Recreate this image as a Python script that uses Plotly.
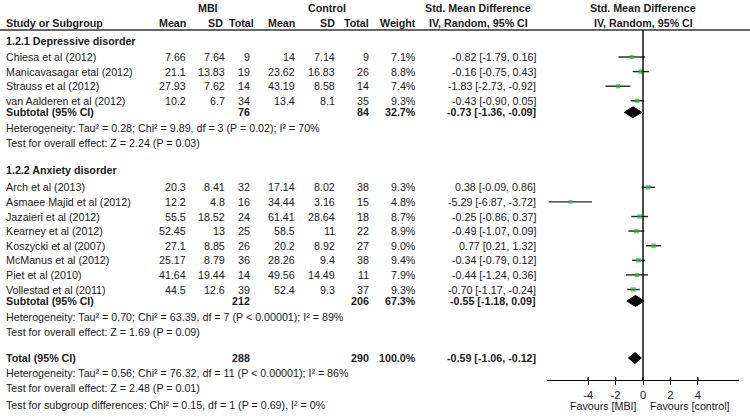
import plotly.graph_objects as go

# ---- data ----
dep_studies = ["Chiesa et al (2012)", "Manicavasagar etal (2012)", "Strauss et al (2012)",
               "van Aalderen et al (2012)"]
dep_mbi_mean = [7.66, 21.1, 27.93, 10.2]
dep_mbi_sd = [7.64, 13.83, 7.62, 6.7]
dep_mbi_n = [9, 19, 14, 34]
dep_ctl_mean = [14, 23.62, 43.19, 13.4]
dep_ctl_sd = [7.14, 16.83, 8.58, 8.1]
dep_ctl_n = [9, 26, 14, 35]
dep_weight = [7.1, 8.8, 7.4, 9.3]
dep_smd = [-0.82, -0.16, -1.83, -0.43]
dep_lo = [-1.79, -0.75, -2.73, -0.90]
dep_hi = [0.16, 0.43, -0.92, 0.05]

anx_studies = ["Arch et al (2013)", "Asmaee Majid et al (2012)", "Jazaieri et al (2012)",
               "Kearney et al (2012)", "Koszycki et al (2007)", "McManus et al (2012)",
               "Piet et al (2010)", "Vollestad et al (2011)"]
anx_mbi_mean = [20.3, 12.2, 55.5, 52.45, 27.1, 25.17, 41.64, 44.5]
anx_mbi_sd = [8.41, 4.8, 18.52, 13, 8.85, 8.79, 19.44, 12.6]
anx_mbi_n = [32, 16, 24, 25, 26, 36, 14, 39]
anx_ctl_mean = [17.14, 34.44, 61.41, 58.5, 20.2, 28.26, 49.56, 52.4]
anx_ctl_sd = [8.02, 3.16, 28.64, 11, 8.92, 9.4, 14.49, 9.3]
anx_ctl_n = [38, 15, 18, 22, 27, 38, 11, 37]
anx_weight = [9.3, 4.8, 8.7, 8.9, 9.0, 9.4, 7.9, 9.3]
anx_smd = [0.38, -5.29, -0.25, -0.49, 0.77, -0.34, -0.44, -0.70]
anx_lo = [-0.09, -6.87, -0.86, -1.07, 0.21, -0.79, -1.24, -1.17]
anx_hi = [0.86, -3.72, 0.37, 0.09, 1.32, 0.12, 0.36, -0.24]

sub_labels = ["Subtotal (95% CI)", "Subtotal (95% CI)", "Total (95% CI)"]
sub_mbi_n = [76, 212, 288]
sub_ctl_n = [84, 206, 290]
sub_weight = [32.7, 67.3, 100.0]
sub_smd = [-0.73, -0.55, -0.59]
sub_lo = [-1.36, -1.18, -1.06]
sub_hi = [-0.09, 0.09, -0.12]

dep_het = "Heterogeneity: Tau² = 0.28; Chi² = 9.89, df = 3 (P = 0.02); I² = 70%"
dep_test = "Test for overall effect: Z = 2.24 (P = 0.03)"
anx_het = "Heterogeneity: Tau² = 0.70; Chi² = 63.39, df = 7 (P < 0.00001); I² = 89%"
anx_test = "Test for overall effect: Z = 1.69 (P = 0.09)"
tot_het = "Heterogeneity: Tau² = 0.56; Chi² = 76.32, df = 11 (P < 0.00001); I² = 86%"
tot_test = "Test for overall effect: Z = 2.48 (P = 0.01)"
sub_test = "Test for subgroup differences: Chi² = 0.15, df = 1 (P = 0.69), I² = 0%"

ticks = [-4, -2, 0, 2, 4]

# ---- layout (pixel rows, figure is 750x418) ----
W, H = 750, 418
FONT = "Liberation Sans, Arial, sans-serif"
FS = 10.7
TXT = "#1a1a1a"
GREEN = "#3cae4f"
ROW = 14.6

y_g1 = 41
y_dep = [57 + ROW * i for i in range(len(dep_studies))]
y_sub1 = y_dep[-1] + 11.5
y_het1 = y_sub1 + 16
y_test1 = y_het1 + 15
y_g2 = y_test1 + 27
y_anx = [y_g2 + 17 + ROW * i for i in range(len(anx_studies))]
y_sub2 = y_anx[-1] + 11.5
y_het2 = y_sub2 + 16
y_test2 = y_het2 + 15
y_tot = y_test2 + 26
y_het3 = y_tot + 15
y_test3 = y_het3 + 15
y_sub3 = y_test3 + 17
y_axis = 380

# column right edges
c_name = 4
c_mmean, c_msd, c_mn = 188, 227, 252
c_cmean, c_csd, c_cn = 297, 337, 371
c_w, c_ci = 418, 538

ann = []


def txt(x, y, s, anchor="right", bold=False):
    ann.append(dict(x=x / W, y=y, xref="paper", yref="y", text=f"<b>{s}</b>" if bold else s,
                    showarrow=False, xanchor=anchor, yanchor="middle",
                    font=dict(family=FONT, size=FS, color=TXT)))


def fmt(v):
    return f"{v:g}"


# headers
txt(208, 8, "MBI", "center", True)
txt(327, 8, "Control", "center", True)
txt(478, 8, "Std. Mean Difference", "center", True)
txt(643, 8, "Std. Mean Difference", "center", True)
txt(c_name, 23, "Study or Subgroup", "left", True)
for x, s in [(c_mmean, "Mean"), (c_msd - 2, "SD"), (c_mn + 4, "Total"),
             (c_cmean, "Mean"), (c_csd, "SD"), (c_cn, "Total"), (c_w, "Weight")]:
    txt(x, 23, s, "right", True)
txt(478, 23, "IV, Random, 95% CI", "center", True)
txt(643, 23, "IV, Random, 95% CI", "center", True)


def study_rows(names, ys, mm, msd, mn, cm, csd, cn, w, smd, lo, hi):
    for i, y in enumerate(ys):
        txt(c_name, y, names[i], "left")
        txt(c_mmean, y, fmt(mm[i]))
        txt(c_msd, y, fmt(msd[i]))
        txt(c_mn, y, str(mn[i]))
        txt(c_cmean, y, fmt(cm[i]))
        txt(c_csd, y, fmt(csd[i]))
        txt(c_cn, y, str(cn[i]))
        txt(c_w, y, f"{w[i]:.1f}%")
        txt(c_ci, y, f"{smd[i]:.2f} [{lo[i]:.2f}, {hi[i]:.2f}]")


txt(c_name, y_g1, "1.2.1 Depressive disorder", "left", True)
study_rows(dep_studies, y_dep, dep_mbi_mean, dep_mbi_sd, dep_mbi_n, dep_ctl_mean, dep_ctl_sd,
           dep_ctl_n, dep_weight, dep_smd, dep_lo, dep_hi)
txt(c_name, y_g2, "1.2.2 Anxiety disorder", "left", True)
study_rows(anx_studies, y_anx, anx_mbi_mean, anx_mbi_sd, anx_mbi_n, anx_ctl_mean, anx_ctl_sd,
           anx_ctl_n, anx_weight, anx_smd, anx_lo, anx_hi)

y_subs = [y_sub1, y_sub2, y_tot]
for i, y in enumerate(y_subs):
    txt(c_name, y, sub_labels[i], "left", True)
    txt(c_mn, y, str(sub_mbi_n[i]), "right", True)
    txt(c_cn, y, str(sub_ctl_n[i]), "right", True)
    txt(c_w, y, f"{sub_weight[i]:.1f}%", "right", True)
    txt(c_ci, y, f"{sub_smd[i]:.2f} [{sub_lo[i]:.2f}, {sub_hi[i]:.2f}]", "right", True)

for y, s in [(y_het1, dep_het), (y_test1, dep_test), (y_het2, anx_het), (y_test2, anx_test),
             (y_het3, tot_het), (y_test3, tot_test), (y_sub3, sub_test)]:
    txt(c_name, y, s, "left")

txt(639, 406, "Favours [MBI]", "right")
txt(648, 406, "Favours [control]", "left")

fig = go.Figure()

# CI whiskers + squares
all_smd = dep_smd + anx_smd
all_lo = dep_lo + anx_lo
all_hi = dep_hi + anx_hi
all_y = y_dep + y_anx
all_w = dep_weight + anx_weight
cx, cy = [], []
for lo, hi, y in zip(all_lo, all_hi, all_y):
    cx += [lo, hi, None]
    cy += [y, y, None]
fig.add_trace(go.Scatter(x=cx, y=cy, mode="lines", xaxis="x2", yaxis="y",
                         line=dict(color="#222", width=1.4), hoverinfo="skip"))
fig.add_trace(go.Scatter(x=all_smd, y=all_y, mode="markers", xaxis="x2", yaxis="y",
                         marker=dict(symbol="square", color=GREEN,
                                     size=[2.8 + w * 0.2 for w in all_w], line=dict(width=0))))

# diamonds
for smd, lo, hi, y in zip(sub_smd, sub_lo, sub_hi, y_subs):
    fig.add_trace(go.Scatter(x=[lo, smd, hi, smd, lo], y=[y, y - 5.5, y, y + 5.5, y],
                             mode="lines", fill="toself", fillcolor="black",
                             line=dict(color="black", width=1), xaxis="x2", yaxis="y",
                             hoverinfo="skip"))

# tick marks poke a little above the axis line too
tx, ty = [], []
for t in ticks:
    tx += [t, t, None]
    ty += [y_axis - 3, y_axis, None]
fig.add_trace(go.Scatter(x=tx, y=ty, mode="lines", xaxis="x2", yaxis="y",
                         line=dict(color="black", width=1.4), hoverinfo="skip"))

shapes = [
    dict(type="line", xref="paper", yref="y", x0=0, x1=1, y0=30, y1=30,
         line=dict(color="#333", width=1.3)),
    dict(type="line", xref="x2", yref="y", x0=0, x1=0, y0=30, y1=y_axis,
         line=dict(color="black", width=1.4)),
]

fig.update_layout(
    width=W, height=H, margin=dict(l=0, r=0, t=0, b=0),
    paper_bgcolor="white", plot_bgcolor="white", showlegend=False,
    annotations=ann, shapes=shapes,
    xaxis=dict(range=[0, W], visible=False, domain=[0, 1]),
    yaxis=dict(range=[H, 0], visible=False, domain=[0, 1]),
    xaxis2=dict(range=[-7, 7], domain=[547 / W, 739 / W], anchor="free",
                position=(H - y_axis) / H, overlaying="x",
                showline=True, linecolor="black", linewidth=1.4,
                ticks="outside", ticklen=4, tickwidth=1.4, tickcolor="black",
                tickvals=ticks, ticktext=[str(t) for t in ticks],
                showgrid=False, zeroline=False,
                tickfont=dict(family=FONT, size=FS + 0.5, color=TXT)),
)

# drop the browser's default 8px body margin so the figure sits at the page corner
fig.write_html("out.html", config={"displayModeBar": False},
               post_script="document.body.style.margin='0';document.body.style.overflow='hidden';")
